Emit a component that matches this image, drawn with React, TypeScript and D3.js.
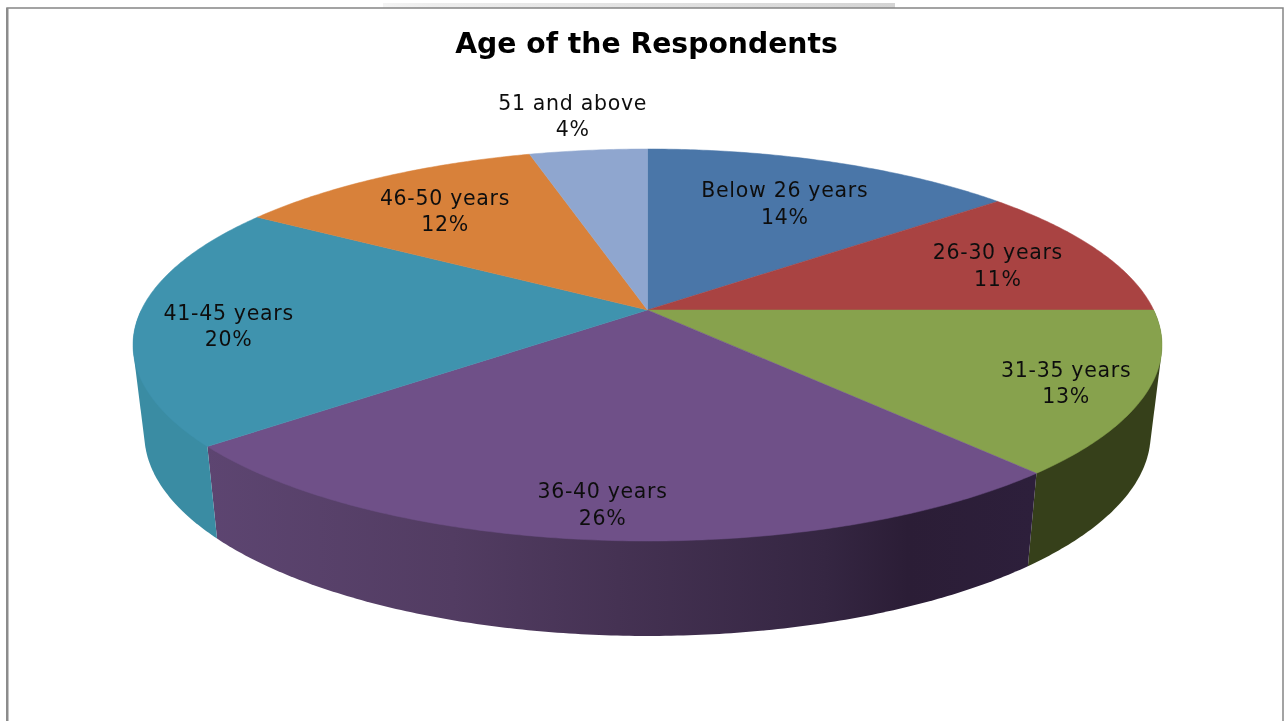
import React from "react";
import * as d3 from "d3";

const title = "Age of the Respondents";
const categories = ["Below 26 years", "26-30 years", "31-35 years", "36-40 years", "41-45 years", "46-50 years", "51 and above"];
const shares = [14, 11, 13.4, 25.6, 20, 11.6, 4.4];

const faceColors = ["#4a76a8", "#a94342", "#87a24d", "#6f5088", "#3f93ae", "#d8813a", "#8fa6cf"];
const wallColors = ["#2f4a6b", "#6b2a2a", "#36401a", "url(#purpleWall)", "#3a8ca3", "#8a5225", "#5b6a84"];
const labelRadius = [0.71, 0.77, 0.85, 0.86, 0.82, 0.74, 1.285];
const labelNudgeDeg = [0, 0, 0, 0.7, -1.3, 0, -0.2];

const W = 1285;
const H = 721;
const apex = { x: 647.5, y: 310 };
const persp = -0.1786;
const kY = 189.75;
const kX = 506.2;
const wallShrink = 0.978;
const wallDrop = 88;
const wallStretch = 1.03;

// Perspective projection of a disc point (clockwise angle from 12 o'clock, radius fraction)
function project(angle: number, r = 1): [number, number] {
  const x = r * Math.sin(angle);
  const y = -r * Math.cos(angle);
  const d = 1 + persp * y;
  return [(kX * x) / d, (kY * y) / d];
}
const topPt = (a: number, r = 1): [number, number] => {
  const [x, y] = project(a, r);
  return [apex.x + x, apex.y + y];
};
const lowPt = (a: number): [number, number] => {
  const [x, y] = project(a);
  return [apex.x + wallShrink * x, apex.y + wallDrop + wallStretch * y];
};
const line = d3.line();
const samples = (a0: number, a1: number) => {
  const n = Math.max(2, Math.ceil((a1 - a0) / 0.01));
  return d3.range(n + 1).map((i) => a0 + ((a1 - a0) * i) / n);
};

export default function App() {
  const arcs = d3.pie<number>().sort(null).startAngle(0).endAngle(2 * Math.PI)(shares);
  const pct = d3.format(".0f");
  return (
    <svg width={W} height={H} viewBox={`0 0 ${W} ${H}`} style={{ position: "absolute", left: 0, top: 0, background: "#fff" }}>
      <defs>
        <linearGradient id="tab" x1="0" x2="1" y1="0" y2="0">
          <stop offset="0" stopColor="#f4f4f4" />
          <stop offset="0.1" stopColor="#ededed" />
          <stop offset="1" stopColor="#d4d4d4" />
        </linearGradient>
        <linearGradient id="purpleWall" gradientUnits="userSpaceOnUse" x1="205" x2="1032" y1="0" y2="0">
          <stop offset="0" stopColor="#5d4571" />
          <stop offset="0.3" stopColor="#523c62" />
          <stop offset="0.5" stopColor="#453253" />
          <stop offset="0.75" stopColor="#352642" />
          <stop offset="0.85" stopColor="#2b1d36" />
          <stop offset="1" stopColor="#2d1f3b" />
        </linearGradient>
        <filter id="soft" x="-10%" y="-10%" width="120%" height="120%">
          <feGaussianBlur stdDeviation="0.4" />
        </filter>
      </defs>
      <rect x={383} y={3} width={512} height={5} fill="url(#tab)" />
      <rect x={7} y={8} width={1276} height={720} fill="#fff" stroke="#858585" strokeWidth={1.5} />
      <rect x={6} y={8} width={2.5} height={713} fill="#8c8c8c" />

      {arcs.map((s, i) => {
        const a0 = Math.max(s.startAngle, Math.PI / 2);
        const a1 = Math.min(s.endAngle, (3 * Math.PI) / 2);
        if (a1 <= a0) return null;
        const as = samples(a0, a1);
        const hull = d3.polygonHull([...as.map((a) => topPt(a)), ...as.map(lowPt)]);
        return <path key={i} d={line(hull!) + "Z"} fill={wallColors[i]} />;
      })}

      {arcs.map((s, i) => {
        const pts: [number, number][] = [[apex.x, apex.y], ...samples(s.startAngle, s.endAngle).map((a) => topPt(a))];
        return <path key={i} d={line(pts) + "Z"} fill={faceColors[i]} stroke={faceColors[i]} strokeWidth={0.5} />;
      })}

      <g filter="url(#soft)" fontFamily="'DejaVu Sans', sans-serif" textAnchor="middle">
        <text x={646.5} y={53} fontSize={28.25} fontWeight={700} fill="#000">{title}</text>
        {arcs.map((s, i) => {
          const mid = (s.startAngle + s.endAngle) / 2 + (labelNudgeDeg[i] * Math.PI) / 180;
          const [x, y] = topPt(mid, labelRadius[i]);
          return (
            <text key={i} fontSize={20.5} letterSpacing={0.7} fill="#111">
              <tspan x={x} y={y - 3.5}>{categories[i]}</tspan>
              <tspan x={x} y={y + 23}>{pct(s.data)}%</tspan>
            </text>
          );
        })}
      </g>
    </svg>
  );
}
